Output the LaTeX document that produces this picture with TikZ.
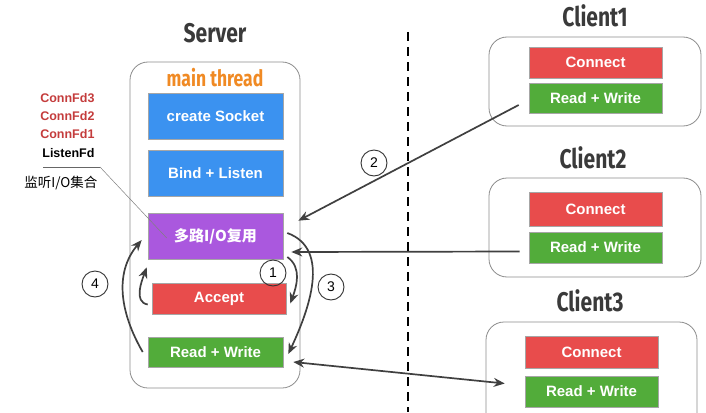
\documentclass[tikz,border=0pt]{standalone}
\usepackage{fontspec}
\setsansfont{Liberation Sans}
\newfontfamily\cjk{Noto Sans CJK SC}
\newfontfamily\titlefont[FakeStretch=0.78]{Fira Sans}
\usetikzlibrary{calc,arrows.meta}
\definecolor{boxblue}{RGB}{59,146,240}
\definecolor{boxpurple}{RGB}{170,88,222}
\definecolor{boxred}{RGB}{232,76,76}
\definecolor{boxgreen}{RGB}{82,172,58}
\definecolor{threadorange}{RGB}{240,138,36}
\definecolor{fdred}{RGB}{196,60,60}
\definecolor{titlegray}{RGB}{58,58,58}
\begin{document}
\begin{tikzpicture}[x=1pt,y=-1pt,
	box/.style={draw=black!35,line width=0.6pt,minimum width=135,minimum height=46,inner sep=0,text=white,font=\sffamily\bfseries\fontsize{15}{17}\selectfont},
	frame/.style={draw=black!45,line width=0.8pt,rounded corners=18,fill=white},
	title/.style={text=titlegray,font=\titlefont\bfseries\fontsize{27}{30}\selectfont},
	fd/.style={anchor=east,font=\sffamily\bfseries\fontsize{12.5}{15}\selectfont},
	num/.style={circle,draw=black!80,line width=0.9pt,minimum size=26,inner sep=0,font=\sffamily\fontsize{14}{16}\selectfont},
	flow/.style={draw=black!75,line width=1.7pt,-{Stealth[length=11pt,width=9pt]}}]
	\useasboundingbox (0,0) rectangle (706,412);
	\clip (0,0) rectangle (706,412);
	% server side
	\node[title] (server) at (215,33) {Server};
	\draw[frame] (130,62) rectangle (300,388);
	\node[text=threadorange,font=\titlefont\bfseries\fontsize{22.5}{24}\selectfont] (main) at (215,78) {main thread};
	\node[box,fill=boxblue] (sock) at (215.5,116) {create Socket};
	\node[box,fill=boxblue] (bind) at (215.5,173.5) {Bind + Listen};
	\node[box,fill=boxpurple,font=\cjk\bfseries\fontsize{15}{17}\selectfont] (mux) at (215.5,236) {多路I/O复用};
	\node[box,fill=boxred,minimum width=134,minimum height=31] (acc) at (219,298.5) {Accept};
	\node[box,fill=boxgreen,minimum height=30] (rw) at (215.5,352) {Read + Write};
	% fd set
	\node[fd,text=fdred] (fd3) at (98,98) {ConnFd3};
	\node[fd,text=fdred] (fd2) at (98,116) {ConnFd2};
	\node[fd,text=fdred] (fd1) at (98,134) {ConnFd1};
	\node[fd] (lfd) at (98,153) {ListenFd};
	\coordinate (barl) at (43,167);
	\coordinate (barr) at (100,167);
	\draw[black!60,line width=1pt] (barl) -- (barr);
	\draw[black!50,line width=0.5pt] (barr) -- ($(mux.west)+(19,2)$);
	\node[fd,font=\cjk\fontsize{13.5}{15}\selectfont] (fdset) at (101,183) {监听I/O集合};
	% split
	\draw[dashed,line width=1.5pt,dash pattern=on 9pt off 6pt] (408,32) -- (408,412);
	% clients
	\node[title] (c1) at (595,16) {Client1};
	\draw[frame] (489,37) rectangle (701,126);
	\node[box,fill=boxred,minimum width=133,minimum height=31] (conn1) at (595.5,62.5) {Connect};
	\node[box,fill=boxgreen,minimum width=133,minimum height=30] (rw1) at (595.5,98) {Read + Write};
	\node[title] (c2) at (593,158) {Client2};
	\draw[frame] (489,178) rectangle (701,277);
	\node[box,fill=boxred,minimum width=133,minimum height=34] (conn2) at (595.5,209) {Connect};
	\node[box,fill=boxgreen,minimum width=133,minimum height=31] (rw2) at (595.5,247.5) {Read + Write};
	\node[title] (c3) at (590,301) {Client3};
	\draw[frame] (486,322) rectangle (697,440);
	\node[box,fill=boxred,minimum width=133,minimum height=32] (conn3) at (591.5,352) {Connect};
	\node[box,fill=boxgreen,minimum width=133,minimum height=31] (rw3) at (591.5,391.5) {Read + Write};
	% steps
	\node[num] (n1) at (273,273) {1};
	\node[num] (n2) at (374,163) {2};
	\node[num] (n3) at (331,287) {3};
	\node[num] (n4) at (95,284) {4};
	\draw[flow] ($(rw.west)+(-5,0)$) to[out=120,in=230] ($(mux.west)+(-6,4)$);
	\draw[flow] ($(acc.west)+(-4,6)$) to[out=170,in=250] ($(mux.south west)+(-1,8)$);
	\draw[flow] ($(mux.east)+(4,21)$) to[out=-35,in=70] ($(acc.east)+(4,5)$);
	\draw[flow] ($(mux.east)+(4,-3)$) to[out=-20,in=65] ($(rw.east)+(5,2)$);
	\draw[flow] ($(rw1.west)+(-10,7)$) -- ($(mux.north east)+(15,8)$);
	\draw[flow] ($(rw2.west)+(-9,4)$) -- ($(mux.east)+(8,16)$);
	\draw[flow,{Stealth[length=11pt,width=9pt]}-{Stealth[length=11pt,width=9pt]}] ($(rw.east)+(10,10)$) -- ($(rw3.west)+(-20,-8)$);
\end{tikzpicture}
\end{document}
